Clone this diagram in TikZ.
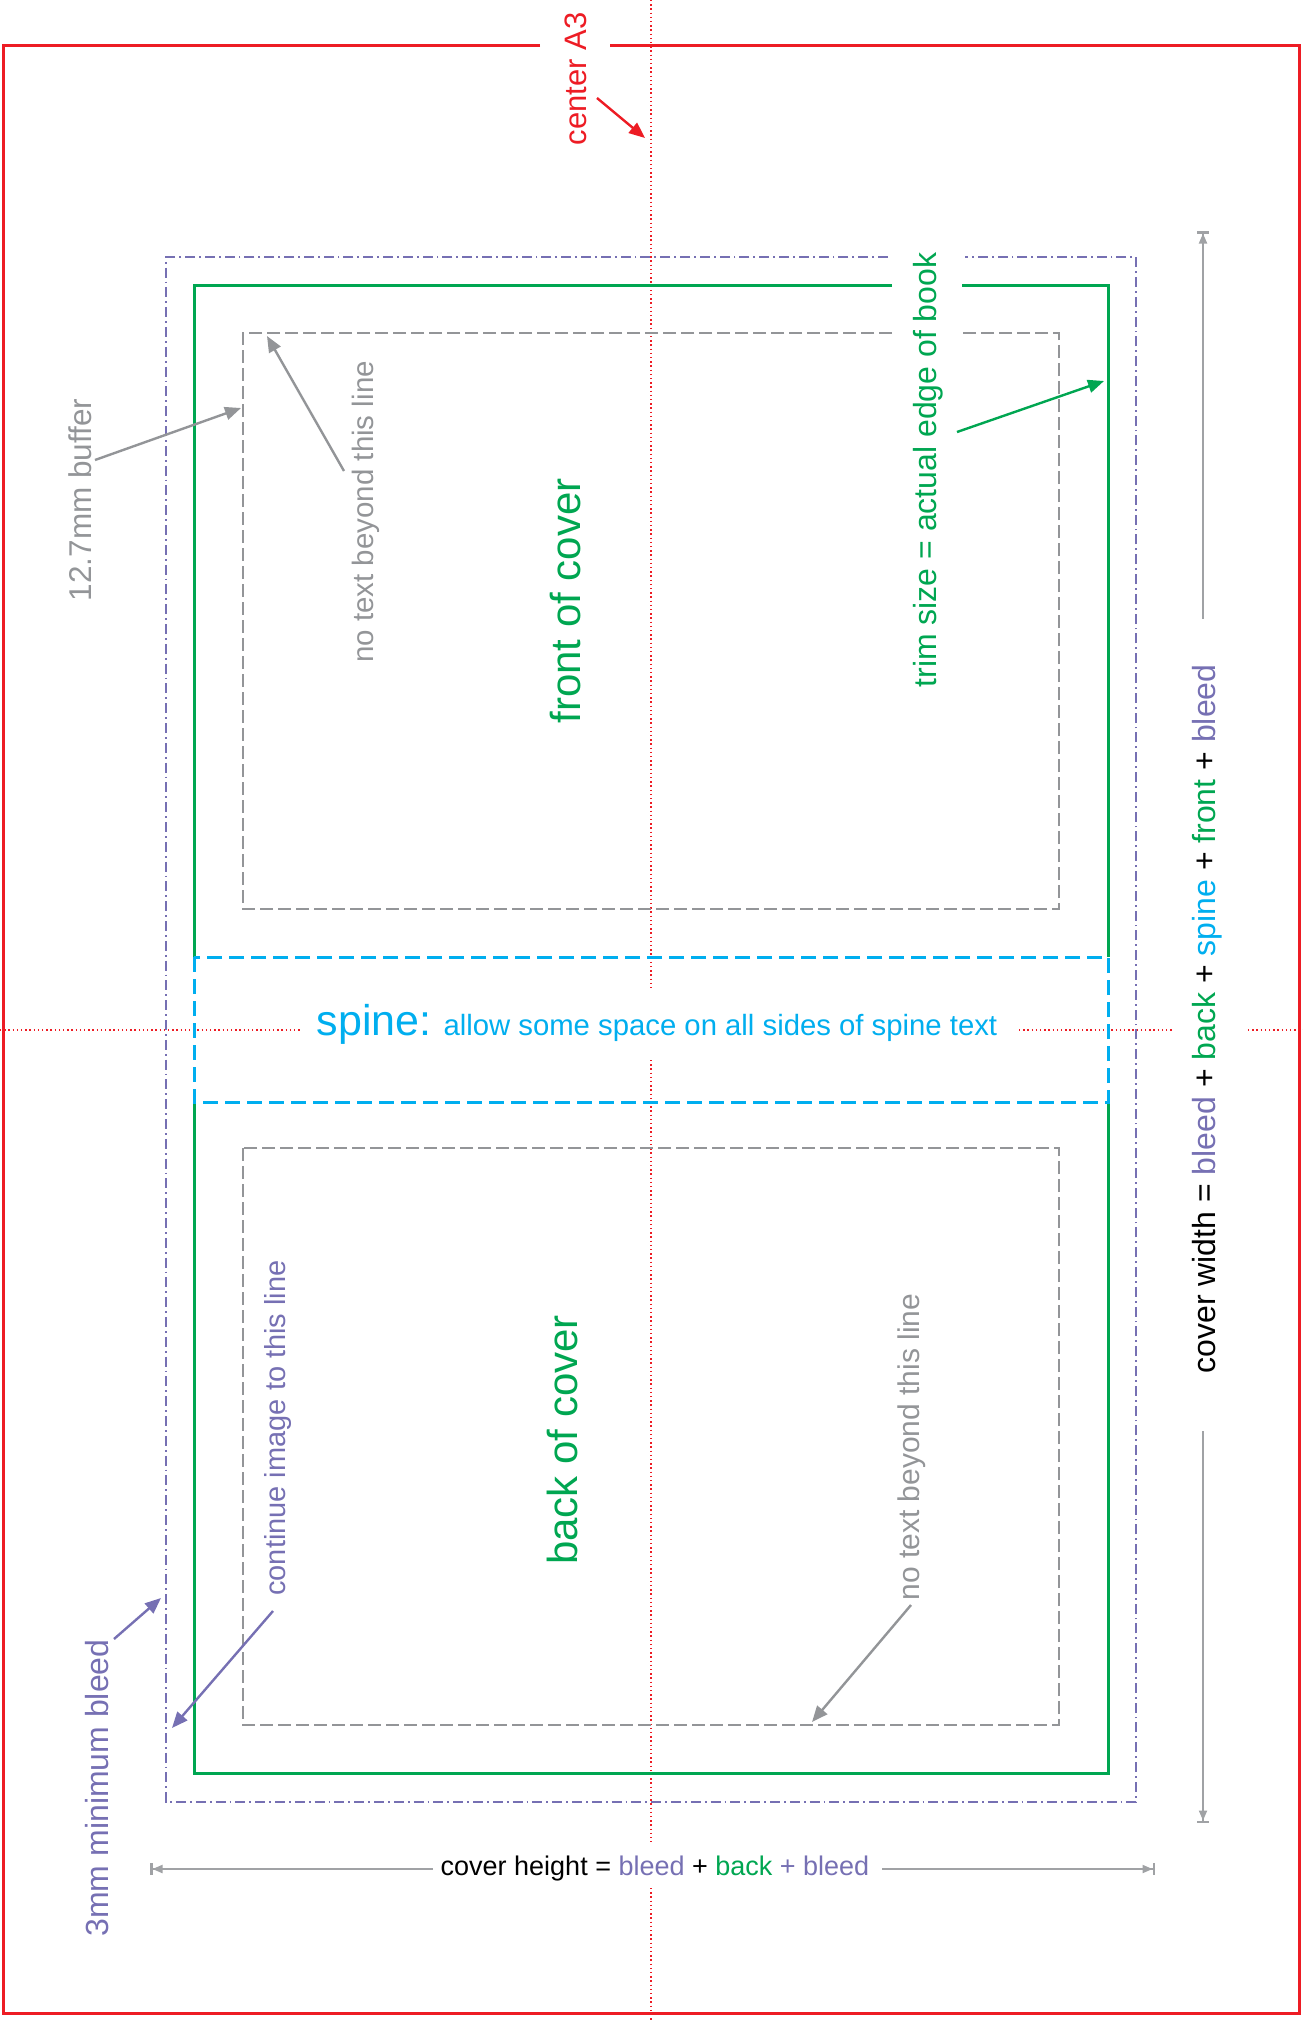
\documentclass[tikz,border=0pt]{standalone}
\usepackage{fontspec}
\setmainfont{Liberation Sans}
\usepackage{tikz}
\usetikzlibrary{arrows.meta}

\definecolor{cropred}{RGB}{237,28,36}
\definecolor{trimgreen}{RGB}{0,166,81}
\definecolor{bleedpurple}{RGB}{118,112,179}
\definecolor{spinecyan}{RGB}{0,174,239}
\definecolor{safegray}{RGB}{147,149,152}
\definecolor{dimgray}{RGB}{160,162,165}
\newcommand{\fsz}[1]{\fontsize{#1}{#1}\selectfont}

\begin{document}
\begin{tikzpicture}[
x=1pt,y=-1pt,
redline/.style={cropred,line width=3pt},
centerline/.style={cropred,line width=1.4pt,dash pattern=on 1.4pt off 2.8pt},
bleedline/.style={bleedpurple,line width=1.8pt,dash pattern=on 10pt off 4pt on 1.8pt off 4pt},
trimline/.style={trimgreen,line width=3pt},
safeline/.style={safegray,line width=2.7pt,dash pattern=on 13pt off 5pt},
spineline/.style={spinecyan,line width=3pt,dash pattern=on 15pt off 7pt},
pointer/.style={-{Triangle[length=16pt,width=13pt]},line width=2.4pt},
dimline/.style={dimgray,line width=2pt,-{Triangle[length=10pt,width=8pt]Bar[width=12pt,line width=2.5pt]}},
label/.style={inner sep=0pt,rotate=90}]
    \useasboundingbox (0,0) rectangle (1303,2022);

    % Draw sheet and center lines
    \draw[redline] (540,45) -- (3,45) -- (3,2013) -- (1299,2013) -- (1299,45) -- (610,45);
    \draw[centerline] (651,0) -- (651,988);
    \draw[centerline] (651,1060) -- (651,1842);
    \draw[centerline] (651,1888) -- (651,2022);
    \draw[centerline] (0,1030) -- (300,1030);
    \draw[centerline] (1019,1030) -- (1173,1030);
    \draw[centerline] (1248,1030) -- (1303,1030);

    % Draw bleed, trim, spine and safe area
    \draw[bleedline] (888,257) -- (166,257) -- (166,1802) -- (1136,1802) -- (1136,257) -- (965,257);
    \draw[trimline] (892,285) -- (194,285) -- (194,957);
    \draw[trimline] (1108,957) -- (1108,285) -- (962,285);
    \draw[trimline] (194,1102) -- (194,1773) -- (1108,1773) -- (1108,1102);
    \draw[spineline] (194,957) rectangle (1108,1102);
    \draw[safeline] (892,333) -- (243,333) -- (243,909) -- (1059,909) -- (1059,333) -- (963,333);
    \draw[safeline] (243,1148) rectangle (1059,1725);

    % Labels
    \node[label,cropred,font=\fsz{31}] (centerA3) at (576,79) {center A3};
    \node[label,safegray,font=\fsz{31.5}] (buffer) at (80,500) {12.7mm buffer};
    \node[label,safegray,font=\fsz{29.5}] (notextA) at (366,512) {no text beyond this line};
    \node[label,trimgreen,font=\fsz{42}] (front) at (566,601) {front of cover};
    \node[label,trimgreen,font=\fsz{32}] (trim) at (928,470) {trim size = actual edge of book};
    \node[spinecyan,inner sep=0pt,anchor=base] (spine) at (657,1035)
        {{\fsz{43}spine:}\hspace{12pt}{\fsz{29.3}allow some space on all sides of spine text}};
    \node[label,font=\fsz{32}] (coverw) at (1207,1019) {cover width = \textcolor{bleedpurple}{bleed}
        + \textcolor{trimgreen}{back} + \textcolor{spinecyan}{spine} + \textcolor{trimgreen}{front}
        + \textcolor{bleedpurple}{bleed}};
    \node[label,trimgreen,font=\fsz{42}] (back) at (562,1440) {back of cover};
    \node[label,bleedpurple,font=\fsz{29}] (contimg) at (278,1428) {continue image to this line};
    \node[label,bleedpurple,font=\fsz{32}] (minbleed) at (97,1788) {3mm minimum bleed};
    \node[label,safegray,font=\fsz{30}] (notextB) at (912,1447) {no text beyond this line};
    \node[inner sep=0pt,font=\fsz{27}] (coverh) at (655,1868) {cover height =
        \textcolor{bleedpurple}{bleed} + \textcolor{trimgreen}{back} \textcolor{bleedpurple}{+ bleed}};

    % Pointer ends
    \coordinate (centerS) at (597,98);   \coordinate (centerT) at (645,138);
    \coordinate (bufferS) at (95,460);   \coordinate (bufferT) at (241,408);
    \coordinate (notextAS) at (344,471); \coordinate (notextAT) at (267,336);
    \coordinate (trimS) at (957,432);    \coordinate (trimT) at (1104,381);
    \coordinate (contS) at (273,1611);   \coordinate (contT) at (172,1728);
    \coordinate (bleedS) at (114,1639);  \coordinate (bleedT) at (161,1598);
    \coordinate (notextBS) at (911,1605); \coordinate (notextBT) at (812,1722);

    \draw[pointer,cropred] (centerS) -- (centerT);
    \draw[pointer,safegray] (bufferS) -- (bufferT);
    \draw[pointer,safegray] (notextAS) -- (notextAT);
    \draw[pointer,trimgreen] (trimS) -- (trimT);
    \draw[pointer,bleedpurple] (contS) -- (contT);
    \draw[pointer,bleedpurple] (bleedS) -- (bleedT);
    \draw[pointer,safegray] (notextBS) -- (notextBT);

    % Dimension lines
    \coordinate (cwA) at (1203,619);  \coordinate (cwtop) at (1203,231);
    \coordinate (cwB) at (1203,1431); \coordinate (cwbot) at (1203,1823);
    \coordinate (chA) at (433,1869);  \coordinate (chleft) at (150,1869);
    \coordinate (chB) at (882,1869);  \coordinate (chright) at (1155,1869);
    \draw[dimline] (cwA) -- (cwtop);
    \draw[dimline] (cwB) -- (cwbot);
    \draw[dimline] (chA) -- (chleft);
    \draw[dimline] (chB) -- (chright);
\end{tikzpicture}
\end{document}
